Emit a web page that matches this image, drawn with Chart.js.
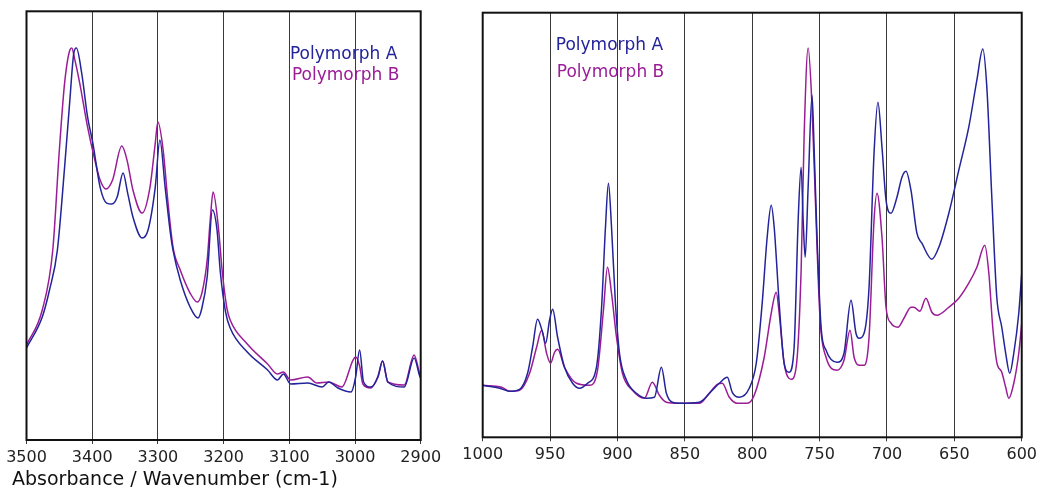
<!DOCTYPE html>
<html><head><meta charset="utf-8">
<script src="https://cdn.jsdelivr.net/npm/chart.js@4.4.1/dist/chart.umd.min.js"></script>
<style>
html,body{margin:0;padding:0;background:#fff;}
#wrap{position:relative;width:1041px;height:496px;overflow:hidden;background:#fff;}
canvas{position:absolute;top:0;}
#cl{left:0;}
#cr{left:455px;}
</style></head>
<body><div id="wrap"><canvas id="cl" width="450" height="496"></canvas><canvas id="cr" width="586" height="496"></canvas></div>
<script>
// ---- data (wavenumber cm-1, absorbance in arbitrary units) ----
const seriesNames = ['Polymorph A', 'Polymorph B'];
const leftTicks = [3500, 3400, 3300, 3200, 3100, 3000, 2900];
const rightTicks = [1000, 950, 900, 850, 800, 750, 700, 650, 600];

const leftWnA = [3500,3476,3465,3453,3442,3434,3428,3424,3416,3407,3399,3388,3378,3370,3362,3353,3346,3338,3324,3315,3304,3297,3289,3281,3277,3266,3251,3239,3233,3225,3217,3210,3205,3197,3190,3164,3133,3118,3109,3098,3072,3050,3040,3026,3006,2999,2993,2987,2976,2965,2958,2950,2925,2910,2901,2900];
const leftAbsA = [0.23,0.3075,0.375,0.475,0.6825,0.85,0.9675,0.98,0.9175,0.8075,0.7425,0.6325,0.5925,0.59,0.6075,0.6675,0.6175,0.5575,0.505,0.525,0.6325,0.75,0.6325,0.5175,0.475,0.40,0.3325,0.305,0.33,0.4075,0.575,0.525,0.42,0.32,0.28,0.22,0.175,0.15,0.165,0.14,0.1425,0.1325,0.145,0.13,0.12,0.1575,0.225,0.145,0.1325,0.1575,0.1975,0.145,0.1325,0.205,0.1575,0.155];

const leftWnB = [3500,3476,3460,3450,3442,3434,3431,3427,3419,3407,3396,3388,3379,3369,3355,3347,3338,3324,3312,3304,3300,3292,3285,3277,3266,3251,3240,3233,3225,3220,3216,3208,3202,3195,3190,3164,3133,3118,3109,3098,3072,3058,3040,3020,3003,2999,2993,2988,2976,2965,2958,2950,2925,2910,2901,2900];
const leftAbsB = [0.2375,0.325,0.475,0.725,0.8925,0.975,0.98,0.955,0.8925,0.7825,0.70,0.65,0.6275,0.65,0.735,0.70,0.625,0.5675,0.6325,0.7425,0.795,0.725,0.60,0.4825,0.425,0.3675,0.345,0.3675,0.45,0.5575,0.62,0.5325,0.42,0.33,0.30,0.24,0.19,0.165,0.17,0.15,0.1575,0.1425,0.145,0.1325,0.20,0.2075,0.185,0.14,0.13,0.16,0.1975,0.145,0.1375,0.2125,0.1625,0.16];

const rightWnA = [1000,987.4,980,972.6,966.7,963,959.3,955.6,953.3,950.4,948.1,944.4,939.3,933.3,928.1,922.2,915.6,911.9,908.9,906.7,904.4,901.5,898.5,893.3,885.9,878.5,872.6,867.4,863.7,859.3,854.1,839.3,829.6,824.4,818.5,814.8,809.6,802.2,797,792.6,788.9,785.9,783.7,780,776.3,772.6,768.9,765.9,763.7,762.2,760.7,758.5,755.6,754.1,751.9,748.9,745.2,737,731.9,726.7,723,720.7,717,713.3,709.6,706.7,703.7,700.7,697,692.6,688.9,685.9,682.2,677.8,674.1,666.7,661.5,654.1,646.7,639.3,633.3,628.9,625.9,622.2,618.5,614.8,611.9,608.9,605.9,602.2,600];
const rightAbsA = [0.13,0.1225,0.115,0.12,0.16,0.225,0.295,0.2625,0.235,0.2925,0.32,0.25,0.175,0.135,0.1225,0.135,0.175,0.3175,0.525,0.635,0.525,0.335,0.21,0.1425,0.11,0.0975,0.10,0.175,0.11,0.0875,0.085,0.0875,0.1175,0.135,0.15,0.1125,0.10,0.1225,0.185,0.335,0.50,0.58,0.525,0.335,0.185,0.1625,0.225,0.5425,0.675,0.5425,0.45,0.625,0.855,0.725,0.50,0.275,0.2175,0.1875,0.21,0.3425,0.26,0.2475,0.26,0.375,0.71,0.8375,0.725,0.5925,0.56,0.60,0.65,0.665,0.6175,0.51,0.485,0.445,0.475,0.56,0.6675,0.775,0.8925,0.97,0.875,0.60,0.35,0.275,0.21,0.16,0.21,0.31,0.41];

const rightWnB = [1000,985.9,980,972.6,965.2,960,956.3,952.6,949.6,946.7,944.4,939.3,930.4,920.7,914.8,910.4,907.4,904.4,900.7,896.3,888.9,880,874.1,868.9,863.7,854.1,839.3,831.9,825.9,822.2,817,811.1,803.7,798.5,791.1,785.9,782.2,780,776.3,771.1,767.4,763.7,761.5,758.5,755.6,752.6,749.6,745.2,737,731.9,727.4,724.4,720.7,717,713.3,709.6,707.4,703.7,700.7,697,691.9,687.4,682.2,680,675.6,671.1,666.7,663,654.1,646.7,639.3,633.3,627.4,624.4,621.5,618.5,614.8,611.9,609.6,605.9,602.2,600];
const rightAbsB = [0.13,0.125,0.115,0.1175,0.16,0.225,0.2675,0.21,0.185,0.2125,0.22,0.175,0.135,0.13,0.1675,0.3175,0.425,0.36,0.25,0.16,0.1175,0.0975,0.1375,0.105,0.0875,0.085,0.085,0.11,0.1325,0.135,0.10,0.085,0.085,0.105,0.20,0.31,0.3625,0.31,0.185,0.145,0.175,0.4175,0.75,0.9725,0.825,0.5425,0.2925,0.20,0.1675,0.1925,0.2675,0.20,0.18,0.18,0.25,0.5425,0.61,0.50,0.325,0.285,0.275,0.2975,0.325,0.325,0.315,0.3475,0.3125,0.305,0.325,0.3475,0.385,0.425,0.48,0.41,0.275,0.1875,0.1625,0.125,0.0975,0.135,0.21,0.285];

const axisTitle = 'Absorbance / Wavenumber (cm-1)';

// ---- styling ----
const colA = '#23239a';
const colB = '#9b1c97';
const FONT = '"DejaVu Sans", "Liberation Sans", Arial, sans-serif';

function pts(xs, ys){ return xs.map((x,i)=>({x:x, y:ys[i]})); }

const boxPlugin = {
  id: 'box',
  afterDatasetsDraw(chart, args, opts){
    const {ctx, chartArea:a, scales} = chart;
    ctx.save();
    ctx.strokeStyle = '#111';
    ctx.lineWidth = 2;
    ctx.strokeRect(a.left, a.top, a.right - a.left, a.bottom - a.top);
    ctx.font = '17px ' + FONT;
    ctx.textAlign = 'left';
    ctx.textBaseline = 'alphabetic';
    (opts.labels || []).forEach((l, i) => {
      const ds = chart.data.datasets[i];
      ctx.fillStyle = ds.borderColor;
      ctx.fillText(ds.label, scales.x.getPixelForValue(l.x), scales.y.getPixelForValue(l.y));
    });
    if (opts.title) {
      ctx.font = '19px ' + FONT;
      ctx.fillStyle = '#111';
      ctx.fillText(opts.title, 12, 485);
    }
    ctx.restore();
  }
};

function makeChart(id, cfg){
  return new Chart(document.getElementById(id), {
    type: 'line',
    data: { datasets: [
      { label: seriesNames[0], data: pts(cfg.wnA, cfg.absA), borderColor: colA, borderWidth: 1.5, pointRadius: 0, cubicInterpolationMode: 'monotone', fill: false },
      { label: seriesNames[1], data: pts(cfg.wnB, cfg.absB), borderColor: colB, borderWidth: 1.5, pointRadius: 0, cubicInterpolationMode: 'monotone', fill: false }
    ]},
    options: {
      responsive: false,
      animation: false,
      events: [],
      layout: { autoPadding: false, padding: cfg.padding },
      plugins: { legend: { display: false }, tooltip: { enabled: false }, box: { labels: cfg.labels, title: cfg.title } },
      scales: {
        x: {
          type: 'linear', reverse: true, min: cfg.min, max: cfg.max,
          afterBuildTicks: (s) => { s.ticks = cfg.ticks.map(v => ({value: v})); },
          afterFit: (s) => { s.height = cfg.axisH; },
          grid: { color: '#3a3a3a', lineWidth: 1, tickLength: 4, drawTicks: true },
          border: { display: false },
          ticks: { autoSkip: false, maxRotation: 0, padding: 4, color: '#222', font: { family: FONT, size: 16 },
                   callback: (v) => String(v) }
        },
        y: { type: 'linear', min: 0, max: cfg.ymax, display: false }
      }
    },
    plugins: [boxPlugin]
  });
}

makeChart('cl', {
  wnA: leftWnA, absA: leftAbsA, wnB: leftWnB, absB: leftAbsB,
  min: 2900, max: 3500, ticks: leftTicks, ymax: 1.072, axisH: 56,
  padding: { left: 26.5, right: 29.3, top: 11.3, bottom: 0 },
  labels: [{x: 3099, y: 0.9525}, {x: 3096, y: 0.90}],
  title: axisTitle
});

makeChart('cr', {
  wnA: rightWnA, absA: rightAbsA, wnB: rightWnB, absB: rightAbsB,
  min: 600, max: 1000, ticks: rightTicks, ymax: 1.061, axisH: 58.7,
  padding: { left: 27.7, right: 17.7, top: 12.7, bottom: 0 },
  labels: [{x: 945.8, y: 0.9675}, {x: 945, y: 0.90}],
  title: null
});
</script>
</body></html>
